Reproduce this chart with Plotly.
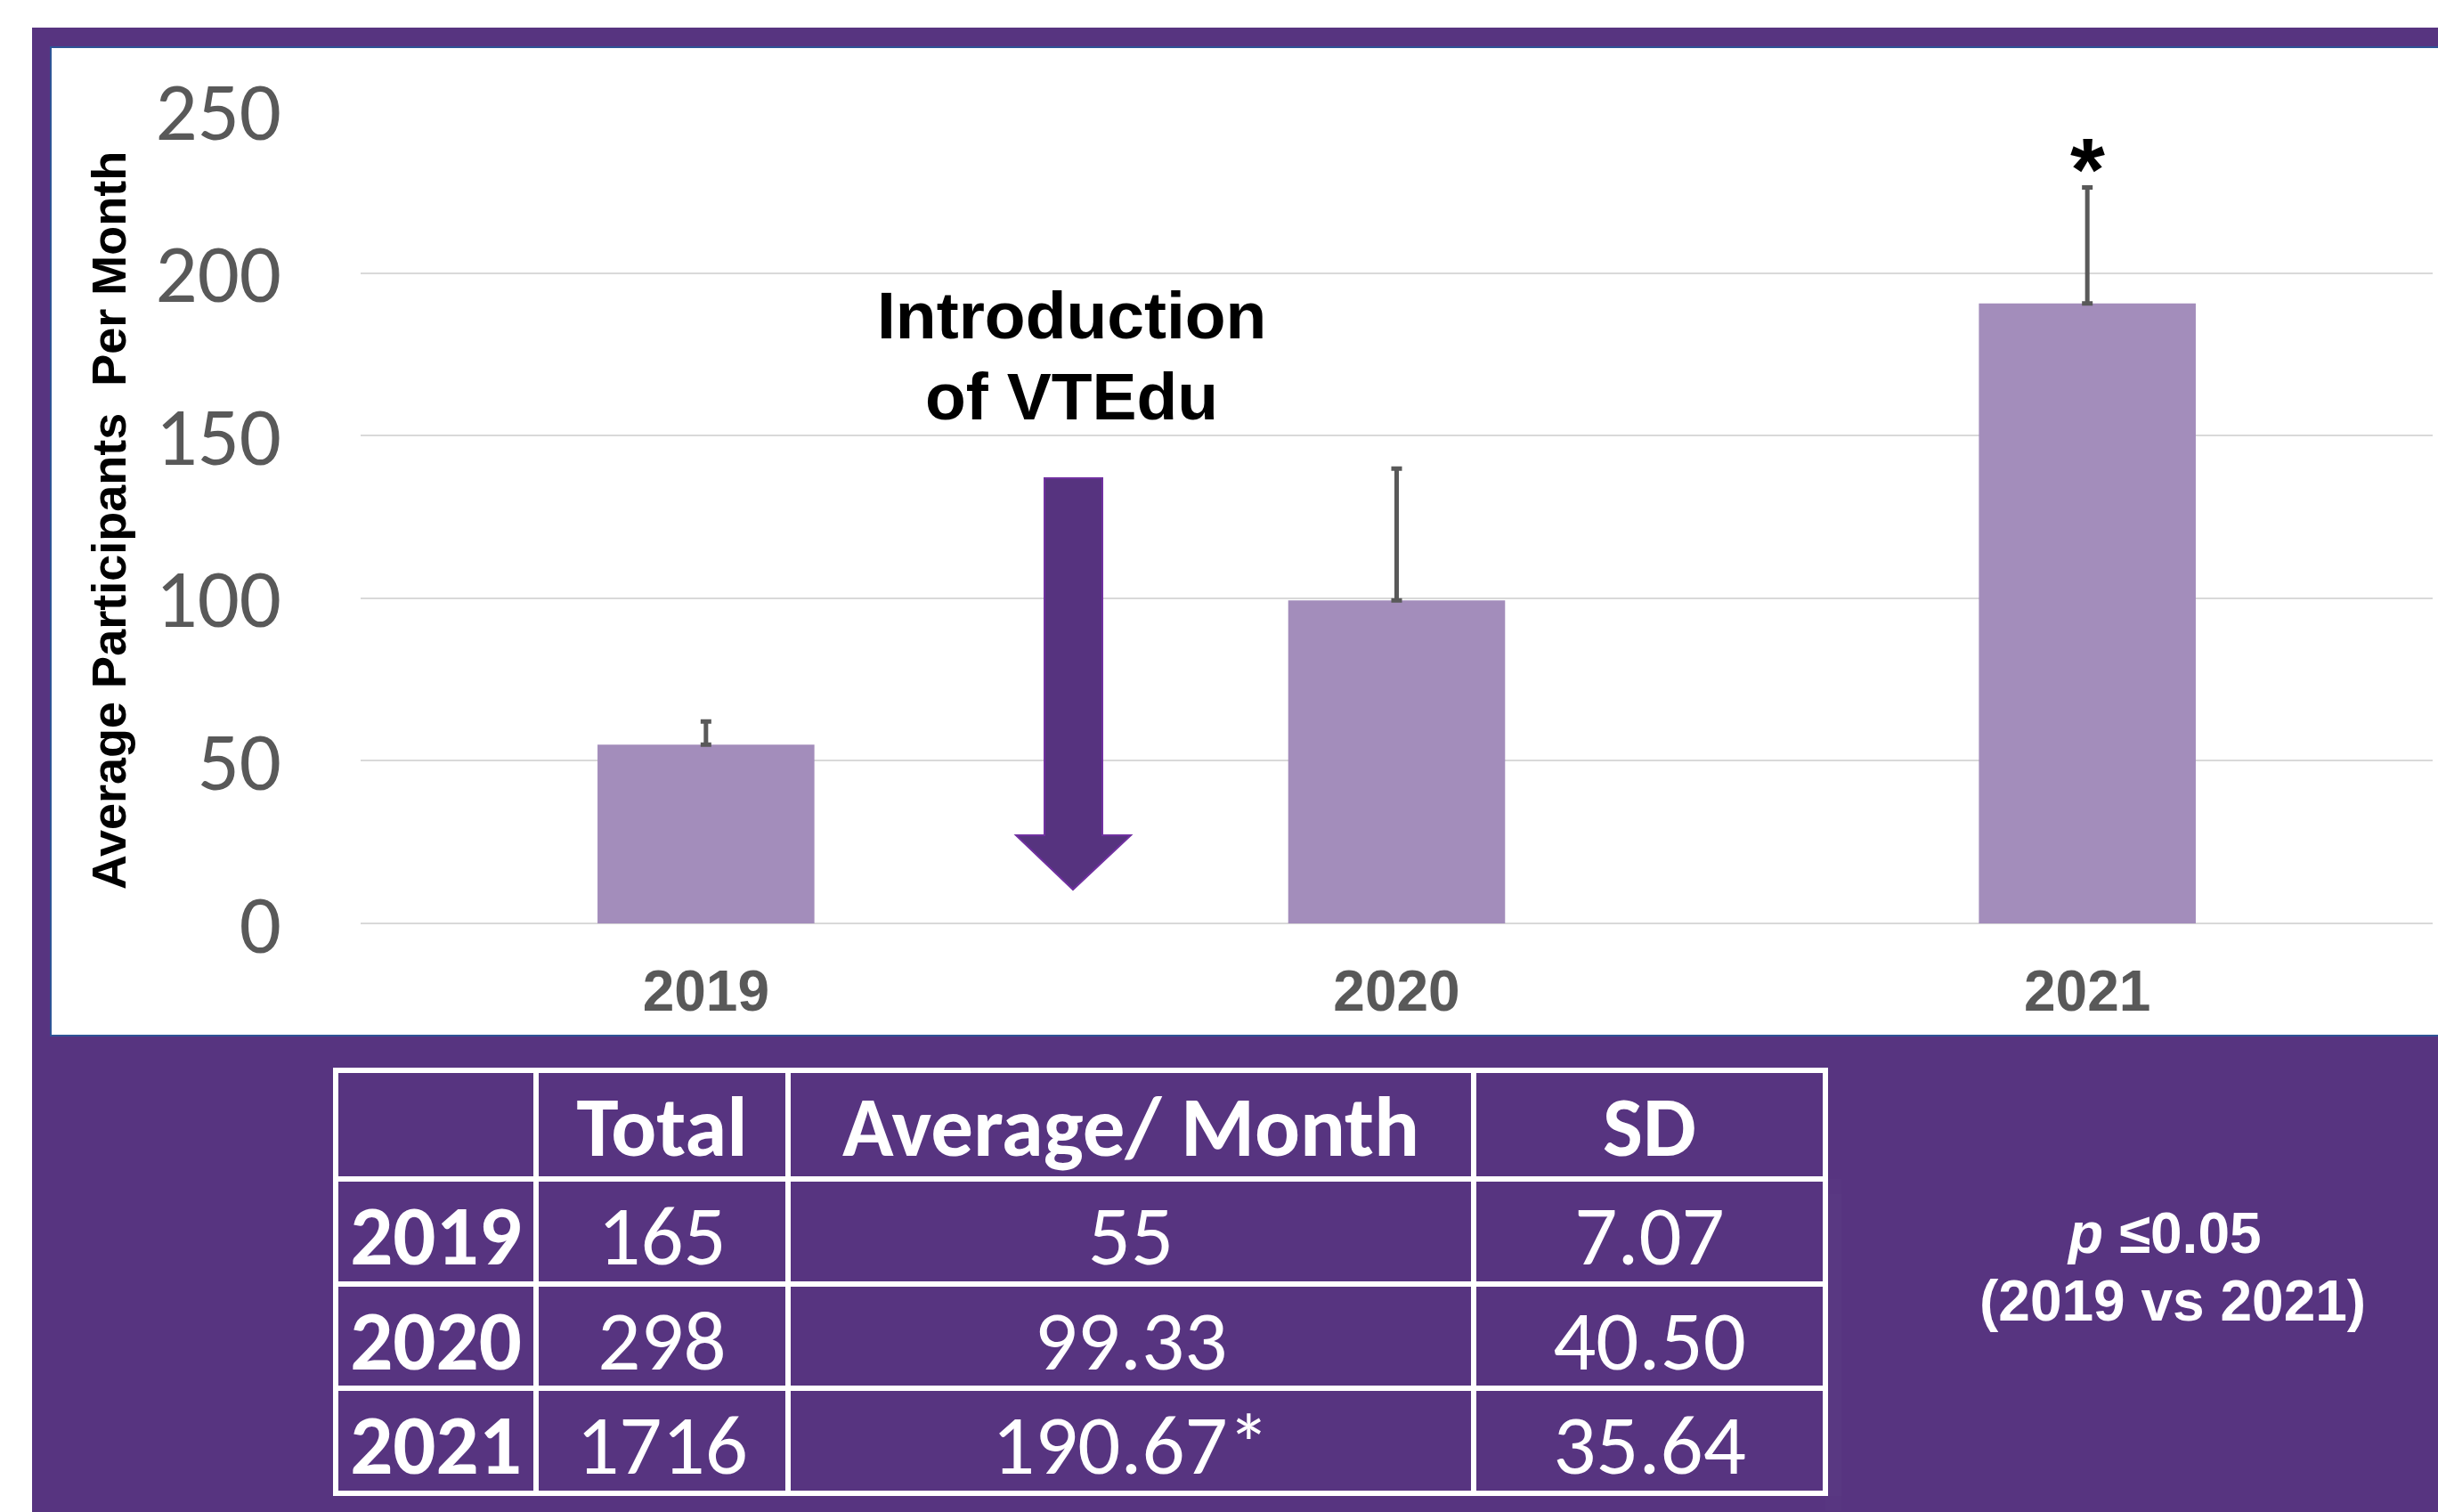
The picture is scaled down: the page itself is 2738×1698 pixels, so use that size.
import plotly.graph_objects as go

# ---------------- data ----------------
years = ["2019", "2020", "2021"]
totals = [165, 298, 1716]
averages = [55, 99.33, 190.67]
sds = [7.07, 40.50, 35.64]
avg_labels = ["55", "99.33", "190.67*"]
sd_labels = ["7.07", "40.50", "35.64"]
table_header = ["", "Total", "Average/ Month", "SD"]
y_ticks = [0, 50, 100, 150, 200, 250]
y_title = "Average Participants\u00a0 Per Month"
intro_lines = ["Introduction", "of VTEdu"]
p_lines = ["<i>p</i> \u22640.05", "(2019 vs 2021)"]
sig_year = "2021"

# ---------------- style ----------------
W, H = 2738, 1698
PURPLE = "#573480"
BAR = "#A38DBB"
GREY = "#595959"
ARIAL = "Liberation Sans, Arial, sans-serif"
CALIBRI = "Carlito, Calibri, Lato, sans-serif"
TFONT = 95


def px(x):
    return x / W


def py(y):
    return 1 - y / H


fig = go.Figure()

fig.add_trace(go.Bar(
    x=years, y=averages,
    marker=dict(color=BAR, line=dict(width=0)),
    error_y=dict(type="data", array=sds, arrayminus=[0] * len(sds), symmetric=False,
                 color=GREY, thickness=5, width=6),
    hoverinfo="skip",
))

# table grid (fills + white rules)
fig.add_trace(go.Table(
    domain=dict(x=[px(377), px(2050)], y=[py(1680), py(1202)]),
    columnwidth=[225, 283, 770, 395],
    header=dict(values=[""] * len(table_header), fill_color=PURPLE,
                line=dict(color="white", width=6), height=122),
    cells=dict(values=[[""] * len(years)] * len(table_header), fill_color=PURPLE,
               line=dict(color="white", width=6), height=117.5),
))

# table text (same grid, nudged down so text sits centred in each row)
SHIFT = 17
fig.add_trace(go.Table(
    domain=dict(x=[px(377), px(2050)], y=[py(1680 + SHIFT), py(1202 + SHIFT)]),
    columnwidth=[225, 283, 770, 395],
    header=dict(
        values=table_header,
        fill_color="rgba(0,0,0,0)",
        line=dict(color="rgba(0,0,0,0)", width=0),
        font=dict(color="white", size=TFONT, family=CALIBRI, weight="bold"),
        align="center",
        height=122,
    ),
    cells=dict(
        values=[years, totals, avg_labels, sd_labels],
        fill_color="rgba(0,0,0,0)",
        line=dict(color="rgba(0,0,0,0)", width=0),
        font=dict(color="white", size=TFONT, family=CALIBRI,
                  weight=["bold", "normal", "normal", "normal"]),
        align="center",
        height=117.5,
    ),
))

shapes = [
    # purple frame
    dict(type="rect", xref="paper", yref="paper", x0=px(36), x1=1, y0=0, y1=py(31),
         fillcolor=PURPLE, line=dict(width=0), layer="below"),
    # white chart panel
    dict(type="rect", xref="paper", yref="paper", x0=px(57), x1=1.01, y0=py(1163), y1=py(53),
         fillcolor="white", line=dict(width=2, color="#2E5496"), layer="below"),
    # down arrow
    dict(type="path", xref="paper", yref="paper",
         path=(f"M {px(1173)},{py(537)} L {px(1238)},{py(537)} L {px(1238)},{py(938)} "
               f"L {px(1270)},{py(938)} L {px(1205)},{py(999)} L {px(1141)},{py(938)} "
               f"L {px(1173)},{py(938)} Z"),
         fillcolor="#56337F", line=dict(color="#7030A0", width=2), layer="above"),
]

sig_i = years.index(sig_year)
annotations = [
    dict(text=y_title, xref="paper", yref="paper", x=px(122), y=py(585), textangle=-90,
         showarrow=False, font=dict(family=ARIAL, size=54, color="black", weight="bold"),
         xanchor="center", yanchor="middle"),
    dict(text=intro_lines[0], xref="paper", yref="paper", x=px(1203), y=py(354),
         showarrow=False, font=dict(family=ARIAL, size=75, color="black", weight="bold"),
         xanchor="center", yanchor="middle"),
    dict(text=intro_lines[1], xref="paper", yref="paper", x=px(1203), y=py(445),
         showarrow=False, font=dict(family=ARIAL, size=75, color="black", weight="bold"),
         xanchor="center", yanchor="middle"),
    dict(text="*", xref="x", yref="y", x=sig_i,
         y=averages[sig_i] + sds[sig_i],
         showarrow=False, font=dict(family=ARIAL, size=100, color="black", weight="bold"),
         xanchor="center", yanchor="middle", yshift=21),
    dict(text=p_lines[0], xref="paper", yref="paper", x=px(2430), y=py(1385),
         showarrow=False, font=dict(family=ARIAL, size=64, color="white", weight="bold"),
         xanchor="center", yanchor="middle"),
    dict(text=p_lines[1], xref="paper", yref="paper", x=px(2440), y=py(1461),
         showarrow=False, font=dict(family=ARIAL, size=64, color="white", weight="bold"),
         xanchor="center", yanchor="middle"),
]

fig.update_layout(
    width=W, height=H,
    margin=dict(l=0, r=0, t=0, b=0, pad=0, autoexpand=False),
    paper_bgcolor="white",
    plot_bgcolor="rgba(0,0,0,0)",
    showlegend=False,
    bargap=0.686,
    shapes=shapes,
    annotations=annotations,
    xaxis=dict(type="category", categoryorder="array", categoryarray=years,
               range=[-0.5, len(years) - 0.5], autorange=False,
               domain=[px(405), px(2732)], showgrid=False, showline=False,
               zeroline=False, automargin=False,
               ticks="", tickfont=dict(family=ARIAL, size=64, color=GREY, weight="bold"),
               ticklabelstandoff=33, fixedrange=True),
    yaxis=dict(domain=[py(1037), py(124)], range=[0, 250], autorange=False, tickvals=y_ticks,
               showgrid=True, gridcolor="#D9D9D9", gridwidth=2, automargin=False,
               zeroline=True, zerolinecolor="#D9D9D9", zerolinewidth=2,
               showline=False, ticks="",
               tickfont=dict(family=CALIBRI, size=93, color=GREY),
               ticklabelstandoff=88, fixedrange=True),
)

fig.write_html("out.html", config={"displayModeBar": False},
               post_script="document.body.style.margin='0';document.body.style.overflow='hidden';")
